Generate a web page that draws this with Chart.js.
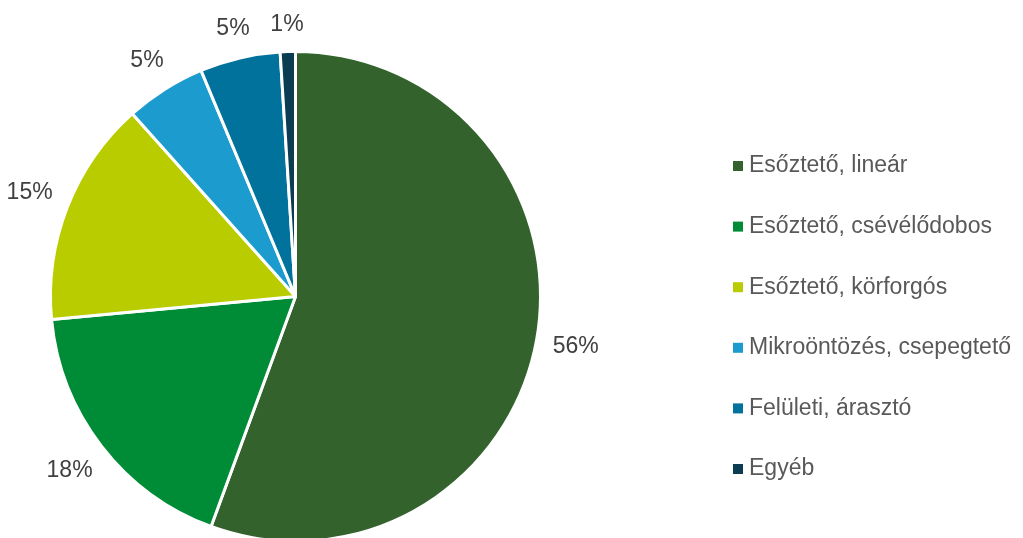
<!DOCTYPE html>
<html>
<head>
<meta charset="utf-8">
<script src="https://cdn.jsdelivr.net/npm/chart.js@4.4.0/dist/chart.umd.min.js"></script>
<style>
html,body{margin:0;padding:0;background:#fff;overflow:hidden;}
</style>
</head>
<body>
<canvas id="myChart" width="1023" height="538"></canvas>
<script>
var labels=['Esőztető, lineár','Esőztető, csévélődobos','Esőztető, körforgós','Mikroöntözés, csepegtető','Felületi, árasztó','Egyéb'];
var values=[55.6,17.9,14.9,5.3,5.3,1.0];
var colors=['#33622d','#008c36','#b8cc00','#1b9bce','#00729c','#0a3d52'];

var ctx=document.getElementById('myChart').getContext('2d');

// percent labels outside the slices
var outLabels={
    id:'outLabels',
    afterDatasetsDraw:function(chart){
        var c=chart.ctx,meta=chart.getDatasetMeta(0);
        c.save();
        c.font='23px "Liberation Sans", Arial, sans-serif';
        c.fillStyle='#404040';
        c.textAlign='center';
        c.textBaseline='middle';
        meta.data.forEach(function(arc,i){
            var txt=Math.round(values[i])+'%';
            var mid=(arc.startAngle+arc.endAngle)/2;
            var hw=c.measureText(txt).width/2,hh=11.5;
            var cx=Math.cos(mid),sy=Math.sin(mid);
            var d=arc.outerRadius+15+hw*Math.abs(cx)+hh*Math.abs(sy);
            c.fillText(txt,arc.x+cx*d,arc.y+sy*d);
        });
        c.restore();
    }
};

// legend on the right
var sideLegend={
    id:'sideLegend',
    afterDraw:function(chart){
        var c=chart.ctx;
        c.save();
        c.font='23px "Liberation Sans", Arial, sans-serif';
        c.textBaseline='middle';
        c.textAlign='left';
        for(var i=0;i<labels.length;i++){
            var y=166+i*60.6;
            c.fillStyle=colors[i];
            c.fillRect(733,y-5,10,10);
            c.fillStyle='#595959';
            c.fillText(labels[i],749,y);
        }
        c.restore();
    }
};

var chart=new Chart(ctx,{
    type:'pie',
    data:{
        labels:labels,
        datasets:[{
            data:values,
            backgroundColor:colors,
            borderColor:'#ffffff',
            borderWidth:3,
            radius:245
        }]
    },
    options:{
        responsive:false,
        animation:false,
        layout:{padding:{left:0,right:432,top:55,bottom:0}},
        plugins:{legend:{display:false},tooltip:{enabled:false}}
    },
    plugins:[outLabels,sideLegend]
});
</script>
</body>
</html>
